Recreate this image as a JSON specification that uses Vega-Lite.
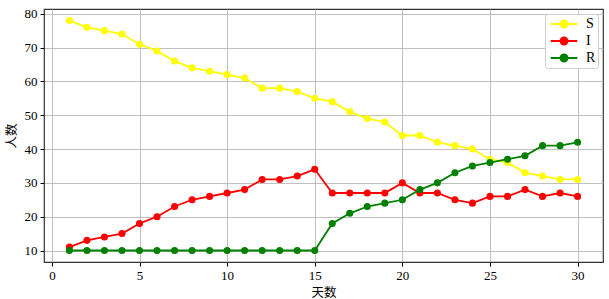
{
  "$schema": "https://vega.github.io/schema/vega-lite/v6.json",
  "width": 559,
  "height": 253,
  "autosize": {"type": "none"},
  "padding": {"left": 44, "top": 9, "right": 6, "bottom": 37},
  "background": "white",
  "data": {"values": [
    {"day":1,"group":"S","v":78},{"day":2,"group":"S","v":76},{"day":3,"group":"S","v":75},{"day":4,"group":"S","v":74},{"day":5,"group":"S","v":71},{"day":6,"group":"S","v":69},{"day":7,"group":"S","v":66},{"day":8,"group":"S","v":64},{"day":9,"group":"S","v":63},{"day":10,"group":"S","v":62},{"day":11,"group":"S","v":61},{"day":12,"group":"S","v":58},{"day":13,"group":"S","v":58},{"day":14,"group":"S","v":57},{"day":15,"group":"S","v":55},{"day":16,"group":"S","v":54},{"day":17,"group":"S","v":51},{"day":18,"group":"S","v":49},{"day":19,"group":"S","v":48},{"day":20,"group":"S","v":44},{"day":21,"group":"S","v":44},{"day":22,"group":"S","v":42},{"day":23,"group":"S","v":41},{"day":24,"group":"S","v":40},{"day":25,"group":"S","v":37},{"day":26,"group":"S","v":36},{"day":27,"group":"S","v":33},{"day":28,"group":"S","v":32},{"day":29,"group":"S","v":31},{"day":30,"group":"S","v":31},
    {"day":1,"group":"I","v":11},{"day":2,"group":"I","v":13},{"day":3,"group":"I","v":14},{"day":4,"group":"I","v":15},{"day":5,"group":"I","v":18},{"day":6,"group":"I","v":20},{"day":7,"group":"I","v":23},{"day":8,"group":"I","v":25},{"day":9,"group":"I","v":26},{"day":10,"group":"I","v":27},{"day":11,"group":"I","v":28},{"day":12,"group":"I","v":31},{"day":13,"group":"I","v":31},{"day":14,"group":"I","v":32},{"day":15,"group":"I","v":34},{"day":16,"group":"I","v":27},{"day":17,"group":"I","v":27},{"day":18,"group":"I","v":27},{"day":19,"group":"I","v":27},{"day":20,"group":"I","v":30},{"day":21,"group":"I","v":27},{"day":22,"group":"I","v":27},{"day":23,"group":"I","v":25},{"day":24,"group":"I","v":24},{"day":25,"group":"I","v":26},{"day":26,"group":"I","v":26},{"day":27,"group":"I","v":28},{"day":28,"group":"I","v":26},{"day":29,"group":"I","v":27},{"day":30,"group":"I","v":26},
    {"day":1,"group":"R","v":10},{"day":2,"group":"R","v":10},{"day":3,"group":"R","v":10},{"day":4,"group":"R","v":10},{"day":5,"group":"R","v":10},{"day":6,"group":"R","v":10},{"day":7,"group":"R","v":10},{"day":8,"group":"R","v":10},{"day":9,"group":"R","v":10},{"day":10,"group":"R","v":10},{"day":11,"group":"R","v":10},{"day":12,"group":"R","v":10},{"day":13,"group":"R","v":10},{"day":14,"group":"R","v":10},{"day":15,"group":"R","v":10},{"day":16,"group":"R","v":18},{"day":17,"group":"R","v":21},{"day":18,"group":"R","v":23},{"day":19,"group":"R","v":24},{"day":20,"group":"R","v":25},{"day":21,"group":"R","v":28},{"day":22,"group":"R","v":30},{"day":23,"group":"R","v":33},{"day":24,"group":"R","v":35},{"day":25,"group":"R","v":36},{"day":26,"group":"R","v":37},{"day":27,"group":"R","v":38},{"day":28,"group":"R","v":41},{"day":29,"group":"R","v":41},{"day":30,"group":"R","v":42}
  ]},
  "encoding": {
    "x": {"field": "day", "type": "quantitative",
      "scale": {"domain": [-0.45, 31.45], "nice": false, "zero": false},
      "axis": {"values": [0,5,10,15,20,25,30], "title": "天数", "grid": true}},
    "y": {"field": "v", "type": "quantitative",
      "scale": {"domain": [6.6, 81.4], "nice": false, "zero": false},
      "axis": {"values": [10,20,30,40,50,60,70,80], "title": "人数", "grid": true}},
    "color": {"field": "group", "type": "nominal",
      "scale": {"domain": ["S","I","R"], "range": ["#ffff00","#ff0000","#008000"]},
      "legend": {
        "title": null, "orient": "none", "legendX": 501, "legendY": 5,
        "symbolType": "M-1.9,0H1.9M0.5,0A0.5,0.5 0 1 1 -0.5,0A0.5,0.5 0 1 1 0.5,0Z",
        "symbolSize": 196, "symbolStrokeWidth": 2, "symbolOffset": 9,
        "labelFont": "Liberation Serif", "labelFontSize": 14, "labelColor": "black",
        "labelOffset": 14, "rowPadding": 1,
        "padding": 2, "strokeColor": "#d0d0d0", "fillColor": "white", "cornerRadius": 3,
        "encode": {"symbols": {"update": {"fill": {"scale": "color", "field": "value"}, "fillOpacity": {"value": 1}}}}
      }}
  },
  "layer": [
    {"mark": {"type": "line", "strokeWidth": 1.8}},
    {"mark": {"type": "point", "filled": true, "opacity": 1, "size": 50, "shape": "circle"}}
  ],
  "config": {
    "view": {"stroke": "#333333", "strokeWidth": 1.2},
    "axis": {
      "labelFont": "Liberation Serif", "labelFontSize": 13, "labelColor": "black",
      "titleFont": "Noto Sans CJK SC", "titleFontSize": 12.5, "titleFontWeight": "normal", "titleColor": "black",
      "gridColor": "#b0b0b0", "gridWidth": 1, "gridOpacity": 0.8,
      "domain": false, "tickColor": "black", "tickSize": 4, "labelPadding": 3
    },
    "axisX": {"titlePadding": 4},
    "axisY": {"titlePadding": 6}
  }
}
